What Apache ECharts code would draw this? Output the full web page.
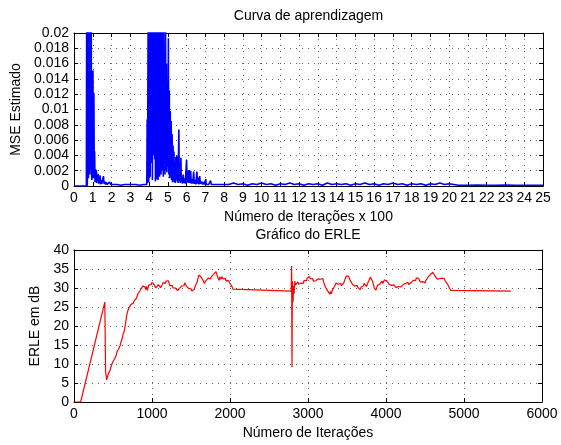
<!DOCTYPE html>
<html><head><meta charset="utf-8">
<script src="https://cdn.jsdelivr.net/npm/echarts@6/dist/echarts.min.js"></script>
<style>html,body{margin:0;padding:0;background:#fff}#c{width:561px;height:445px}</style>
</head><body><div id="c"></div>
<script>
// ---- Top chart: MSE estimate, x in hundreds of iterations ----
const mseXTicks = [0, 25, 1];        // min, max, step
const mseYTicks = [0, 0.02, 0.002];  // min, max, step
const msePoints = [
 [0,0],[0.66,0],[0.68,0.03],[0.69,0],[0.71,0.0003],[0.74,0.0005],[0.75,0.032],[0.77,0.001],
 [0.79,0.045],[0.81,0.002],[0.83,0.05],[0.85,0.0015],[0.87,0.042],[0.89,0.003],[0.91,0.036],
 [0.93,0.0033],[0.95,0.0008],[0.98,0.0009],[1.01,0.0151],[1.03,0.001],[1.06,0.0122],[1.08,0.0012],
 [1.10,0.0045],[1.12,0.0005],[1.15,0.0022],[1.17,0.0006],[1.19,0.0021],[1.21,0.0004],[1.24,0.0015],
 [1.26,0.0007],[1.29,0.0016],[1.31,0.0003],[1.34,0.0011],[1.36,0.0004],[1.39,0.0014],[1.41,0.0002],
 [1.45,0.0008],[1.48,0.0003],[1.52,0.0005],[1.55,0.0002],[1.57,0.0013],[1.60,0.0003],[1.64,0.0006],
 [1.68,0.0002],[1.72,0.0005],[1.76,0.0002],[1.80,0.0004],[1.85,0.0002],[1.90,0.0005],[1.95,0.0002],
 [2.0,0.0004],[2.1,0.0002],[2.2,0.0003],[2.3,0.0002],[2.4,0.0003],[2.5,0.0001],[2.6,0.0003],
 [2.7,0.0002],[2.8,0.0003],[2.9,0.0002],[3.0,0.0003],[3.1,0.0002],[3.2,0.0003],[3.3,0.0002],
 [3.4,0.0003],[3.5,0.0001],[3.6,0.0003],[3.7,0.0002],[3.8,0.0003],[3.88,0.0002],[3.90,0.0087],
 [3.92,0.0004],[3.94,0.0003],[3.96,0.028],[3.98,0.0005],[4.00,0.035],[4.02,0.001],[4.04,0.04],
 [4.06,0.0012],[4.08,0.03],[4.10,0.0035],[4.12,0.045],[4.14,0.003],[4.16,0.038],[4.18,0.0008],
 [4.20,0.05],[4.22,0.0045],[4.24,0.033],[4.26,0.004],[4.28,0.042],[4.30,0.0035],[4.32,0.036],
 [4.34,0.0006],[4.36,0.048],[4.38,0.0015],[4.40,0.03],[4.42,0.0009],[4.44,0.0012],[4.46,0.011],
 [4.48,0.0008],[4.50,0.04],[4.52,0.002],[4.54,0.035],[4.56,0.0012],[4.58,0.045],[4.60,0.003],
 [4.62,0.03],[4.64,0.0015],[4.66,0.05],[4.68,0.002],[4.70,0.028],[4.72,0.0025],[4.74,0.038],
 [4.76,0.0012],[4.78,0.026],[4.80,0.0035],[4.83,0.0149],[4.85,0.0015],[4.88,0.021],[4.90,0.002],
 [4.93,0.016],[4.95,0.0018],[4.98,0.0125],[5.00,0.0025],[5.03,0.0193],[5.05,0.0015],[5.08,0.0125],
 [5.10,0.001],[5.13,0.0098],[5.15,0.0012],[5.18,0.0085],[5.20,0.0008],[5.23,0.0068],[5.25,0.0005],
 [5.28,0.0053],[5.30,0.0007],[5.33,0.0045],[5.35,0.0005],[5.38,0.0018],[5.40,0.0004],[5.43,0.0038],
 [5.45,0.0008],[5.48,0.004],[5.50,0.0006],[5.53,0.0036],[5.55,0.0004],[5.59,0.0074],[5.61,0.0006],
 [5.64,0.0025],[5.66,0.0004],[5.70,0.0037],[5.72,0.0005],[5.75,0.0012],[5.78,0.0003],[5.82,0.0015],
 [5.85,0.0004],[5.90,0.001],[5.93,0.0003],[6.00,0.0034],[6.03,0.0005],[6.07,0.002],[6.10,0.0004],
 [6.15,0.0021],[6.18,0.0004],[6.22,0.002],[6.25,0.0003],[6.30,0.0009],[6.33,0.0003],[6.38,0.0019],
 [6.41,0.0003],[6.46,0.0008],[6.50,0.0002],[6.55,0.0019],[6.58,0.0003],[6.62,0.0011],[6.66,0.0002],
 [6.70,0.0013],[6.74,0.0003],[6.80,0.0006],[6.85,0.0002],[6.90,0.0005],[6.95,0.0002],[7.02,0.0009],
 [7.05,0.0002],[7.12,0.0004],[7.18,0.0002],[7.28,0.0007],[7.32,0.0002],[7.4,0.0004],[7.5,0.0002],
 [7.6,0.0003],[7.7,0.0002],[7.8,0.0004],[7.9,0.0002],[8.0,0.0003],[8.25,0.0002],[8.5,0.0004],
 [8.75,0.0002],[9,0.0003],[9.25,0.0001],[9.5,0.0003],[9.75,0.0002],[10,0.0004],[10.25,0.0002],
 [10.5,0.0003],[10.75,0.0001],[11,0.0003],[11.25,0.0002],[11.5,0.0004],[11.75,0.0002],[12,0.0003],
 [12.25,0.0001],[12.5,0.0003],[12.75,0.0002],[13,0.0003],[13.25,0.0001],[13.5,0.0004],[13.75,0.0002],
 [14,0.0003],[14.25,0.0002],[14.5,0.0003],[14.75,0.0001],[15,0.0003],[15.25,0.0002],[15.5,0.0004],
 [15.75,0.0002],[16,0.0003],[16.25,0.0001],[16.5,0.0003],[16.75,0.0002],[17,0.0004],[17.25,0.0002],
 [17.5,0.0003],[17.75,0.0001],[18,0.0003],[18.25,0.0002],[18.5,0.0003],[18.75,0.0001],[19,0.0003],
 [19.25,0.0002],[19.5,0.0004],[19.75,0.0002],[20,0.0003],[20.25,0.0002],[20.5,0.0001],[21,0.0001],
 [21.5,0.00012],[22,0.0001],[22.5,0.0001],[23,0.00012],[23.5,0.0001],[24,0.0001],[24.5,0.0001],[25,0.0001]
];

// ---- Bottom chart: ERLE in dB vs iterations ----
const erleXTicks = [0, 6000, 1000];
const erleYTicks = [0, 40, 5];
const erlePoints = [
 [0,0],[85,0],[395,26.3],[400,26.0],[405,8.0],[412,7.0],[419,5.8],[430,6.2],[440,7.4],[450,7.0],
 [460,8.2],[470,8.6],[480,9.6],[490,10.2],[500,10.6],[510,10.4],[520,11.4],[530,11.8],[540,12.2],
 [550,13.2],[560,13.4],[570,13.9],[580,14.1],[590,14.8],[600,15.6],[610,16.1],[620,16.9],[630,17.8],
 [640,18.4],[650,19.3],[660,20.6],[670,22.0],[680,23.3],[690,24.0],[700,24.5],[710,25.0],[720,25.4],
 [730,25.7],[740,25.9],[750,26.1],[760,26.0],[770,26.6],[780,26.9],[790,27.0],[800,27.3],[810,27.9],
 [820,28.5],[830,28.2],[840,28.9],[850,29.4],[860,29.0],[870,29.8],[880,30.5],[890,30.1],[900,30.9],
 [910,30.3],[920,29.6],[930,30.4],[940,29.4],[950,29.9],[960,30.8],[970,30.5],[980,31.2],[990,30.9],
 [1000,31.5],[1010,31.0],[1020,31.6],[1030,30.8],[1040,30.6],[1050,30.0],[1060,30.4],[1070,30.1],
 [1080,30.9],[1090,31.3],[1100,30.6],[1110,30.1],[1120,30.4],[1130,30.8],[1140,31.4],[1150,31.1],
 [1160,31.7],[1170,31.2],[1180,31.8],[1190,32.0],[1200,31.4],[1210,31.9],[1220,31.3],[1230,30.6],
 [1240,30.8],[1250,30.2],[1260,30.6],[1270,30.0],[1280,29.6],[1290,30.3],[1300,30.0],[1310,29.5],
 [1320,29.9],[1330,29.3],[1340,29.6],[1350,29.9],[1360,30.3],[1370,30.0],[1380,30.5],[1390,30.8],
 [1400,31.0],[1410,30.6],[1420,31.4],[1430,31.0],[1440,30.5],[1450,30.2],[1460,30.7],[1470,29.9],
 [1480,30.3],[1490,29.5],[1500,29.8],[1510,29.2],[1520,29.4],[1530,29.1],[1540,29.6],[1550,30.2],
 [1560,30.8],[1570,30.5],[1580,31.6],[1590,32.6],[1600,33.4],[1610,33.2],[1620,33.6],[1630,32.9],
 [1640,33.3],[1650,32.5],[1660,31.8],[1670,31.2],[1680,31.6],[1690,31.9],[1700,31.5],[1710,32.2],
 [1720,32.6],[1730,32.1],[1740,32.8],[1750,32.4],[1760,33.0],[1770,33.4],[1780,33.0],[1790,33.6],
 [1800,33.5],[1810,33.8],[1820,34.3],[1830,34.0],[1840,33.0],[1850,32.6],[1860,32.0],[1870,32.9],
 [1880,32.3],[1890,32.7],[1900,33.0],[1910,32.4],[1920,32.9],[1930,32.1],[1940,32.5],[1950,31.8],
 [1960,32.2],[1970,31.6],[1980,32.0],[1990,31.5],[2000,31.2],[2010,31.0],[2020,30.6],[2030,30.2],
 [2040,29.7],[2050,29.4],[2060,29.2],[2785,29.2],[2790,35.8],[2795,9.2],[2800,31.8],[2808,26.4],
 [2815,30.5],[2822,28.5],[2830,31.8],[2840,30.8],[2850,31.2],[2860,30.5],[2870,31.6],[2880,31.0],
 [2890,31.4],[2900,30.8],[2910,31.3],[2920,30.8],[2930,31.6],[2940,31.2],[2950,32.0],[2960,31.6],
 [2970,32.3],[2980,31.9],[2990,32.6],[3000,32.2],[3010,32.8],[3020,33.0],[3030,32.4],[3040,32.7],
 [3050,32.1],[3060,32.5],[3070,31.8],[3080,32.2],[3090,31.5],[3100,31.9],[3110,31.4],[3120,32.0],
 [3130,32.4],[3140,32.1],[3150,32.6],[3160,32.3],[3170,32.8],[3180,32.2],[3190,32.5],[3200,31.6],
 [3210,31.0],[3220,30.4],[3230,30.8],[3240,29.9],[3250,29.3],[3260,29.8],[3270,28.9],[3280,28.4],
 [3290,29.1],[3300,28.5],[3310,29.3],[3320,29.0],[3330,29.8],[3340,30.4],[3350,30.9],[3360,31.3],
 [3370,30.8],[3380,31.5],[3390,31.0],[3400,31.4],[3410,30.7],[3420,31.2],[3430,30.6],[3440,30.2],
 [3450,30.8],[3460,31.4],[3470,32.0],[3480,32.6],[3490,33.2],[3500,33.0],[3510,33.4],[3520,33.1],
 [3530,32.6],[3540,32.0],[3550,32.3],[3560,31.5],[3570,31.0],[3580,30.6],[3590,31.1],[3600,30.5],
 [3610,30.9],[3620,30.3],[3630,30.7],[3640,30.1],[3650,30.6],[3660,30.0],[3670,29.6],[3680,30.2],
 [3690,29.7],[3700,30.1],[3710,30.6],[3720,31.2],[3730,30.7],[3740,31.0],[3750,30.4],[3760,31.0],
 [3770,31.5],[3780,31.9],[3790,32.4],[3800,32.9],[3810,33.4],[3820,32.6],[3830,31.7],[3840,30.8],
 [3850,30.0],[3860,29.6],[3870,29.4],[3880,30.0],[3890,30.7],[3900,31.0],[3910,30.4],[3920,31.0],
 [3930,30.6],[3940,31.4],[3950,31.8],[3960,31.2],[3970,31.7],[3980,32.2],[3990,31.9],[4000,32.4],
 [4010,31.8],[4020,31.3],[4030,31.6],[4040,31.0],[4050,30.6],[4060,31.1],[4070,30.7],[4080,31.0],
 [4090,30.5],[4100,30.8],[4110,30.3],[4120,30.6],[4130,30.1],[4140,30.5],[4150,30.0],[4160,30.4],
 [4170,30.1],[4180,30.5],[4190,30.3],[4200,30.8],[4210,30.4],[4220,30.9],[4230,31.3],[4240,30.8],
 [4250,31.2],[4260,31.6],[4270,31.1],[4280,31.5],[4290,30.9],[4300,31.3],[4310,30.8],[4320,31.4],
 [4330,31.0],[4340,31.5],[4350,32.0],[4360,31.6],[4370,32.3],[4380,32.0],[4390,32.7],[4400,32.4],
 [4410,32.9],[4420,32.5],[4430,32.0],[4440,31.6],[4450,31.9],[4460,31.3],[4470,31.7],[4480,31.2],
 [4490,31.6],[4500,31.3],[4510,31.9],[4520,32.4],[4530,32.2],[4540,32.9],[4550,33.2],[4560,33.0],
 [4570,33.6],[4580,33.4],[4590,33.9],[4600,34.1],[4610,33.6],[4620,33.8],[4630,33.1],[4640,33.4],
 [4650,32.7],[4660,32.3],[4670,32.6],[4680,32.1],[4690,32.5],[4700,32.8],[4710,32.3],[4720,32.6],
 [4730,32.9],[4740,32.2],[4750,32.4],[4760,31.8],[4770,31.5],[4780,31.6],[4790,31.0],[4800,30.6],
 [4810,30.1],[4820,29.7],[4830,29.4],[4840,29.2],[4850,29.2],[5600,29.2]
];

const FONT = "'Liberation Sans', Arial, Helvetica, sans-serif";
const txt = {color:'#000', fontSize:14, fontFamily:FONT};
function mainAxis(grid, t, pos, extra){
  return Object.assign({
    gridIndex:grid, type:'value', min:t[0], max:t[1], interval:t[2], position:pos,
    axisLine:{show:true, onZero:false, lineStyle:{color:'#000', width:1}},
    axisTick:{show:true, inside:true, length:4, lineStyle:{color:'#000'}},
    axisLabel:Object.assign({margin:5, formatter: v => String(v)}, txt),
    splitLine:{show:true, lineStyle:{color:'#666', width:1, type:[1,5]}},
    nameTextStyle:txt
  }, extra||{});
}
function boxAxis(grid, t, pos){
  return {
    gridIndex:grid, type:'value', min:t[0], max:t[1], interval:t[2], position:pos,
    axisLine:{show:true, onZero:false, lineStyle:{color:'#000', width:1}},
    axisTick:{show:true, inside:true, length:4, lineStyle:{color:'#000'}},
    axisLabel:{show:false}, splitLine:{show:false}
  };
}
const fmtMse = v => v === 0 ? '0' : String(+v.toFixed(3));

const chart = echarts.init(document.getElementById('c'), null, {renderer:'canvas'});
chart.setOption({
  animation:false,
  backgroundColor:'#fff',
  textStyle:{fontFamily:FONT},
  title:[
    {text:'Curva de aprendizagem', left:308.5, top:9, textAlign:'center', padding:0,
     textStyle:{fontSize:14, fontWeight:'normal', color:'#000', fontFamily:FONT}},
    {text:'Gráfico do ERLE', left:308, top:228, textAlign:'center', padding:0,
     textStyle:{fontSize:14, fontWeight:'normal', color:'#000', fontFamily:FONT}}
  ],
  grid:[
    {left:74, top:33, width:469, height:153, outerBoundsMode:'none', containLabel:false},
    {left:74, top:250, width:468, height:152, outerBoundsMode:'none', containLabel:false}
  ],
  xAxis:[
    mainAxis(0, mseXTicks, 'bottom', {name:'Número de Iterações x 100', nameLocation:'middle', nameGap:24}),
    boxAxis(0, mseXTicks, 'top'),
    mainAxis(1, erleXTicks, 'bottom', {name:'Número de Iterações', nameLocation:'middle', nameGap:24}),
    boxAxis(1, erleXTicks, 'top')
  ],
  yAxis:[
    mainAxis(0, mseYTicks, 'left', {name:'MSE Estimado', nameLocation:'middle', nameGap:43,
      axisLabel:Object.assign({margin:5, formatter:fmtMse}, txt)}),
    boxAxis(0, mseYTicks, 'right'),
    mainAxis(1, erleYTicks, 'left', {name:'ERLE em dB', nameLocation:'middle', nameGap:22}),
    boxAxis(1, erleYTicks, 'right')
  ],
  series:[
    {type:'line', xAxisIndex:0, yAxisIndex:0, data:msePoints, showSymbol:false, symbol:'none',
     clip:true, lineStyle:{color:'#0000ff', width:1.6}, silent:true},
    {type:'line', xAxisIndex:2, yAxisIndex:2, data:erlePoints, showSymbol:false, symbol:'none',
     clip:true, lineStyle:{color:'#ff0000', width:1.2}, silent:true}
  ]
});
</script>
</body></html>
